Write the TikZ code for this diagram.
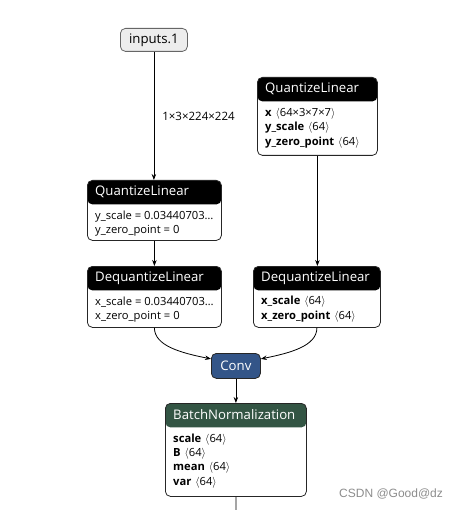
\documentclass[tikz,border=0pt]{standalone}
\usepackage{fontspec}
\setmainfont{Open Sans}[BoldFont={Open Sans Bold}]
\newfontfamily\wmfont{Liberation Sans}
\usetikzlibrary{arrows.meta}
\definecolor{convblue}{HTML}{335588}
\definecolor{normgreen}{HTML}{335544}
\newcommand{\shp}[1]{\hspace{0.35em}$\langle$#1$\rangle$}
\tikzset{
  opbox/.style={draw=black!85, line width=0.8pt, rounded corners=5pt, fill=white, anchor=north west, inner sep=0pt},
  hdrfill/.style={path picture={\fill[#1] (path picture bounding box.north west) rectangle ([yshift=-24pt]path picture bounding box.north east);}},
  hdr/.style={anchor=west, text=white, font=\fontsize{13.2}{15}\selectfont, inner sep=0pt},
  attr/.style={anchor=west, font=\fontsize{11.2}{13}\selectfont, inner sep=0pt},
  edge/.style={line width=0.8pt, -{Stealth[length=6pt,width=4.5pt]}},
  lbl/.style={font=\fontsize{11.5}{13}\selectfont, anchor=west, inner sep=0pt}
}
\begin{document}
\begin{tikzpicture}[x=1pt,y=-1pt]
\useasboundingbox (0,0) rectangle (454,510);
% input
\node[draw=black!60, line width=0.8pt, fill=black!7, rounded corners=5pt, minimum width=67pt, minimum height=23pt, inner sep=0pt, font=\fontsize{13.2}{15}\selectfont, anchor=north west] (in) at (120,28) {inputs.1};
% QuantizeLinear left
\node[opbox, hdrfill=black, minimum width=134pt, minimum height=60pt] (ql1) at (87,180) {};
\node[hdr] (ql1h) at ([xshift=8pt,yshift=-12pt]ql1.north west) {QuantizeLinear};
\node[attr] (ql1a) at (95,217) {y\_scale = 0.03440703…};
\node[attr] (ql1b) at (95,231) {y\_zero\_point = 0};
% QuantizeLinear right
\node[opbox, hdrfill=black, minimum width=120pt, minimum height=78pt] (ql2) at (257,77) {};
\node[hdr] (ql2h) at ([xshift=8pt,yshift=-12pt]ql2.north west) {QuantizeLinear};
\node[attr] (ql2a) at (265,114) {\textbf{x}\shp{64×3×7×7}};
\node[attr] (ql2b) at (265,128) {\textbf{y\_scale}\shp{64}};
\node[attr] (ql2c) at (265,143) {\textbf{y\_zero\_point}\shp{64}};
% DequantizeLinear left
\node[opbox, hdrfill=black, minimum width=134pt, minimum height=61pt] (dq1) at (87,266) {};
\node[hdr] (dq1h) at ([xshift=8pt,yshift=-12pt]dq1.north west) {DequantizeLinear};
\node[attr] (dq1a) at (95,302) {x\_scale = 0.03440703…};
\node[attr] (dq1b) at (95,317) {x\_zero\_point = 0};
% DequantizeLinear right
\node[opbox, hdrfill=black, minimum width=127pt, minimum height=61pt] (dq2) at (253,266) {};
\node[hdr] (dq2h) at ([xshift=8pt,yshift=-12pt]dq2.north west) {DequantizeLinear};
\node[attr] (dq2a) at (261,302) {\textbf{x\_scale}\shp{64}};
\node[attr] (dq2b) at (261,317) {\textbf{x\_zero\_point}\shp{64}};
% Conv
\node[draw=black!85, line width=0.8pt, fill=convblue, rounded corners=5pt, minimum width=49pt, minimum height=25pt, inner sep=0pt, text=white, font=\fontsize{13.2}{15}\selectfont, anchor=north west] (conv) at (211,353) {Conv};
% BatchNormalization
\node[opbox, hdrfill=normgreen, minimum width=141pt, minimum height=93pt] (bn) at (165,403) {};
\node[hdr] (bnh) at ([xshift=8pt,yshift=-12pt]bn.north west) {BatchNormalization};
\node[attr] (bna) at (173,440) {\textbf{scale}\shp{64}};
\node[attr] (bnb) at (173,454) {\textbf{B}\shp{64}};
\node[attr] (bnc) at (173,468) {\textbf{mean}\shp{64}};
\node[attr] (bnd) at (173,483) {\textbf{var}\shp{64}};
\coordinate (bnout) at (236,512);
% edges
\draw[edge] (in.south) -- node[lbl, pos=0.5, xshift=8pt] {1×3×224×224} (in.south |- ql1.north);
\draw[edge] (ql1.south) -- (dq1.north);
\draw[edge] (ql2.south) -- (ql2.south |- dq2.north);
\draw[edge] (dq1.south) .. controls +(0,18) and +(-30,-6) .. ([yshift=7pt]conv.west);
\draw[edge] (dq2.south) .. controls +(0,18) and +(30,-6) .. ([yshift=7pt]conv.east);
\draw[edge] (conv.south) -- (bn.north);
\draw[line width=0.8pt] (bn.south) -- (bnout);
% watermark
\node[anchor=west, text=black!45, font=\wmfont\fontsize{12}{13}\selectfont, inner sep=0pt] (wm) at (339,494) {CSDN @Good@dz};
\end{tikzpicture}
\end{document}
